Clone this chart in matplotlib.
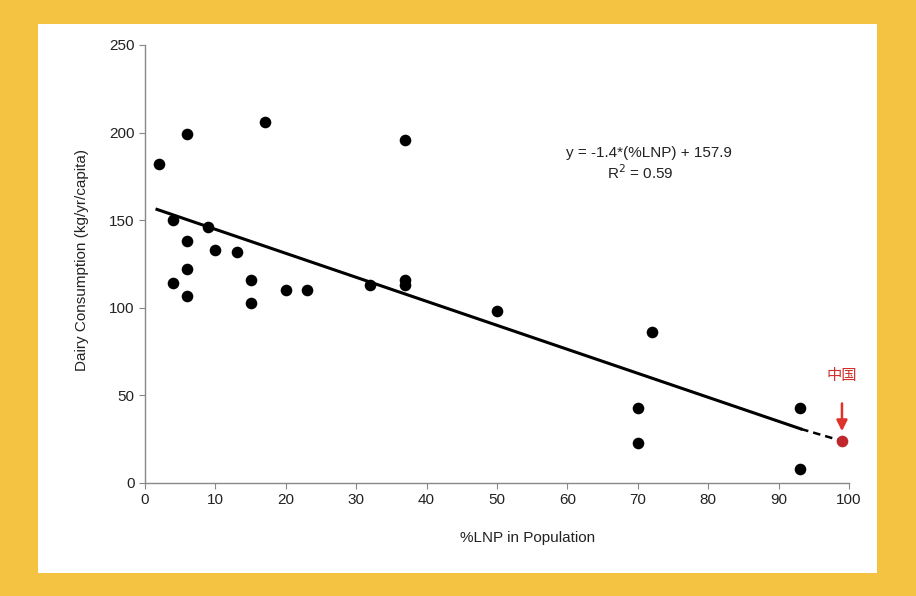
import numpy as np
import matplotlib.pyplot as plt

plt.rcParams['font.family'] = ['Liberation Sans', 'Noto Sans CJK SC', 'DejaVu Sans']

# data
lnp = [2, 6, 17, 4, 9, 6, 10, 13, 6, 4, 6, 15, 15, 20, 23, 32, 37, 37, 37, 50, 72, 70, 70, 93, 93]
dairy = [182, 199, 206, 150, 146, 138, 133, 132, 122, 114, 107, 116, 103, 110, 110, 113, 196, 116, 113, 98, 86, 43, 23, 43, 8]
china_x = 99
china_y = 24
# drawn trend line (as it appears in the picture)
slope = -1.37
intercept = 158.5
fit_start, fit_end = 1.7, 93.2

fig = plt.figure(figsize=(9.16, 5.96), dpi=100)
fig.patch.set_facecolor('#F5C342')

# white panel behind the chart
bg = fig.add_axes([38 / 916, 1 - 573 / 596, (877 - 38) / 916, (573 - 24) / 596], zorder=-1)
bg.set_facecolor('white')
bg.set_xticks([])
bg.set_yticks([])
for s in bg.spines.values():
    s.set_visible(False)

ax = fig.add_axes([145 / 916, 1 - 483 / 596, (849 - 145) / 916, (483 - 45) / 596])
ax.set_facecolor('none')

ax.scatter(lnp, dairy, s=70, color='black', zorder=3, linewidths=0)

xs = np.array([fit_start, fit_end])
ax.plot(xs, slope * xs + intercept, color='black', lw=2.2, zorder=2)
ax.plot([fit_end, china_x], [slope * fit_end + intercept, china_y], color='black', lw=1.8,
        ls=(0, (3, 2)), zorder=2)

ax.scatter([china_x], [china_y], s=70, color='#C0272D', zorder=4, linewidths=0, clip_on=False)
ax.annotate('', xy=(china_x, china_y + 4), xytext=(china_x, china_y + 23),
            arrowprops=dict(arrowstyle='-|>', color='#E0322A', lw=1.8, mutation_scale=16))
ax.text(china_x, 61, '中国', color='#D0312D', fontsize=11, ha='center', va='center')

ax.text(71.6, 188.4, 'y = -1.4*(%LNP) + 157.9', fontsize=11, ha='center', va='center', color='#222222')
ax.text(70.4, 177.3, 'R$^2$ = 0.59', fontsize=11, ha='center', va='center', color='#222222')

ax.set_xlim(0, 100)
ax.set_ylim(0, 250)
ax.set_xticks(np.arange(0, 101, 10))
ax.set_yticks(np.arange(0, 251, 50))
for s in ['top', 'right']:
    ax.spines[s].set_visible(False)
for s in ['left', 'bottom']:
    ax.spines[s].set_color('#888888')
    ax.spines[s].set_linewidth(1)
ax.tick_params(colors='#888888', labelcolor='#222222', labelsize=11, length=4, direction='out')

ax.set_xlabel('%LNP in Population', fontsize=11, color='#222222')
ax.set_ylabel('Dairy Consumption (kg/yr/capita)', fontsize=11, color='#222222')
ax.xaxis.set_label_coords((528 - 145) / 704, -0.11)
ax.yaxis.set_label_coords(-0.0795, 0.51)

fig.savefig('out.png', dpi=100, facecolor=fig.get_facecolor())
